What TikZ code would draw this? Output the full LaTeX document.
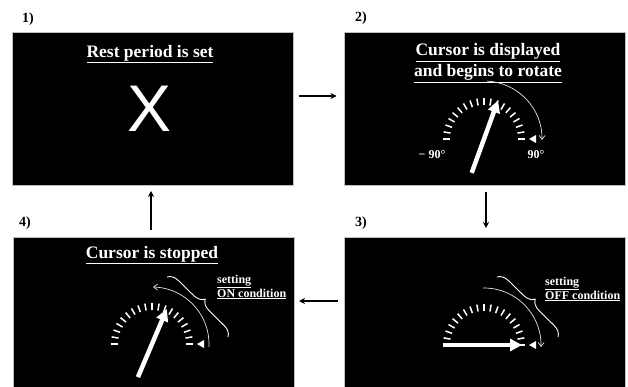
\documentclass[tikz,border=0pt]{standalone}
\usepackage{fontspec}
\setmainfont{Liberation Serif}
\newfontfamily\xsans{Liberation Sans}
\usetikzlibrary{arrows.meta,decorations.pathreplacing}

\tikzset{
  panel/.style={draw=gray!50, fill=black, minimum width=281pt, inner sep=0pt, outer sep=0pt},
  flow/.style={line width=1.6pt, -{Stealth[length=6pt,width=6pt]}},
  steplbl/.style={font=\fontsize{14}{16}\selectfont\bfseries},
  headline/.style={text=white, font=\fontsize{17.5}{21}\selectfont\bfseries, align=center},
  dialtick/.style={white, line width=1.5pt},
  needle/.style={white, line width=4.5pt, -{Triangle[length=12pt,width=12pt]}},
  sweep/.style={white!80!gray, line width=0.7pt, -{Straight Barb[length=4pt,width=6pt]}},
  condlbl/.style={text=white, font=\fontsize{12}{14}\selectfont\bfseries, align=left, anchor=west, inner sep=1pt},
  anglbl/.style={text=white, font=\fontsize{12}{14}\selectfont\bfseries},
  condbrace/.style={white, line width=0.9pt, decorate, decoration={brace, amplitude=11pt}},
}

\begin{document}
\begin{tikzpicture}[x=1pt,y=-1pt]
    \useasboundingbox (0,0) rectangle (628,387);

    % Panels
    \node[panel, minimum height=153pt] (p1) at (153,108.5) {};
    \node[panel, minimum height=153pt] (p2) at (485,108.5) {};
    \node[panel, minimum height=150pt] (p3) at (485,312) {};
    \node[panel, minimum height=150pt] (p4) at (153.5,312) {};

    \node[steplbl] (lbl1) at (28,19) {1)};
    \node[steplbl] (lbl2) at (361,18) {2)};
    \node[steplbl] (lbl3) at (361,223) {3)};
    \node[steplbl] (lbl4) at (25,223) {4)};

    % Cycle
    \draw[flow, shorten <=5pt, shorten >=8pt] ([yshift=12.5pt]p1.east) -- ([yshift=12.5pt]p2.west);
    \draw[flow, shorten <=7pt, shorten >=9pt] ([xshift=1pt]p2.south) -- ([xshift=1pt]p3.north);
    \draw[flow, shorten <=7pt, shorten >=5pt] ([yshift=11pt]p3.west) -- ([yshift=11pt]p4.east);
    \draw[flow, shorten <=7pt, shorten >=6pt] ([xshift=-2.5pt]p4.north) -- ([xshift=-2pt]p1.south);

    % 1) Rest period
    \node[headline] (t1) at (150,54) {\underline{Rest period is set}};
    \node[text=white, font=\xsans\fontsize{66}{66}\selectfont] (xmark) at (150,109) {X};

    % 2) Cursor rotates
    \node[headline] (t2) at (488,63) {\underline{Cursor is displayed}\\\underline{and begins to rotate}};
    \node[anglbl] (m90) at (432,155) {− 90°};
    \node[anglbl] (p90) at (536,155) {90°};
    \begin{scope}[shift={(484,139)}, yscale=-1]
        \foreach \a in {0,10,...,180}
            \draw[dialtick] (\a:34) -- (\a:41);
        \fill[white] (45,0) -- (52,4) -- (52,-4) -- cycle;
        \draw[sweep] (87:58) arc[start angle=87, end angle=-1, radius=58];
        \draw[needle] (250:36) -- (70:41);
    \end{scope}

    % 3) OFF condition
    \node[condlbl] (c3) at (544,289) {\underline{setting}\\\underline{OFF condition}};
    \begin{scope}[shift={(484,345)}, yscale=-1]
        \foreach \a in {0,10,...,180}
            \draw[dialtick] (\a:34) -- (\a:41);
        \fill[white] (45,0) -- (52,4) -- (52,-4) -- cycle;
        \draw[sweep] (91:57) arc[start angle=91, end angle=-2, radius=57];
        \draw[needle] (180:41) -- (0:38);
        \draw[condbrace] (13,68) -- (74,8);
    \end{scope}

    % 4) Cursor stopped
    \node[condlbl] (c4) at (216,287) {\underline{setting}\\\underline{ON condition}};
    \node[headline] (t4) at (152,255) {\underline{Cursor is stopped}};
    \begin{scope}[shift={(152,344)}, yscale=-1]
        \foreach \a in {0,10,...,180}
            \draw[dialtick] (\a:34) -- (\a:41);
        \fill[white] (45,0) -- (52,4) -- (52,-4) -- cycle;
        \draw[sweep] (-3:57) arc[start angle=-3, end angle=89, radius=57];
        \draw[needle] (247:36) -- (67:38);
        \draw[condbrace] (15,67) -- (76,7);
    \end{scope}
\end{tikzpicture}
\end{document}
